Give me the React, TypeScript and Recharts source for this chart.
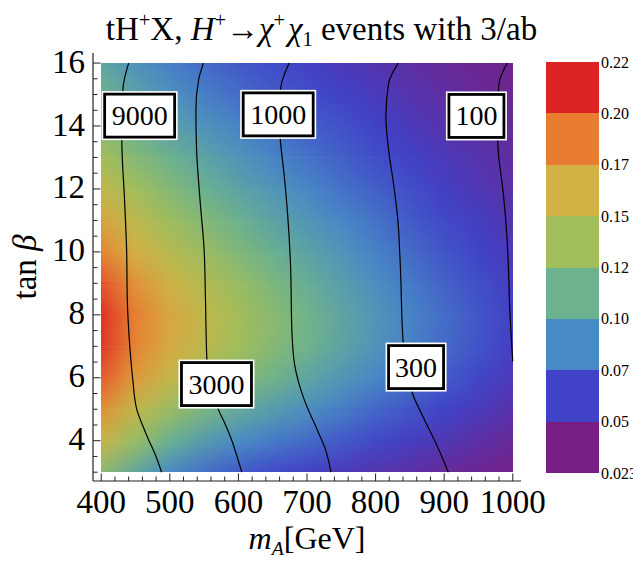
import React from 'react';
import { ComposedChart, XAxis, YAxis, ReferenceArea, Line, Scatter } from 'recharts';

const FONT = '"Liberation Serif", "Times New Roman", serif';

// ---- heat map grid (value shown by colour) ----
const mAColumns = [400, 450, 500, 550, 600, 650, 700, 750, 800, 850, 900, 950, 1000];
const tanBetaRows = [3, 4, 5, 6, 7, 8, 9, 10, 11, 12, 13, 14, 15, 16];
const row3 = [0.126, 0.100, 0.080, 0.069, 0.061, 0.055, 0.050, 0.045, 0.041, 0.037, 0.033, 0.029, 0.025];
const row4 = [0.157, 0.130, 0.107, 0.091, 0.081, 0.074, 0.067, 0.060, 0.054, 0.048, 0.043, 0.037, 0.032];
const row5 = [0.182, 0.155, 0.132, 0.115, 0.102, 0.092, 0.083, 0.075, 0.066, 0.059, 0.052, 0.046, 0.039];
const row6 = [0.202, 0.176, 0.156, 0.137, 0.122, 0.110, 0.098, 0.088, 0.078, 0.069, 0.061, 0.053, 0.045];
const row7 = [0.213, 0.188, 0.168, 0.151, 0.136, 0.122, 0.109, 0.097, 0.086, 0.076, 0.067, 0.058, 0.049];
const row8 = [0.215, 0.190, 0.170, 0.153, 0.137, 0.123, 0.110, 0.098, 0.087, 0.077, 0.068, 0.059, 0.050];
const row9 = [0.204, 0.180, 0.161, 0.145, 0.130, 0.116, 0.104, 0.093, 0.082, 0.073, 0.064, 0.056, 0.048];
const row10 = [0.187, 0.165, 0.147, 0.132, 0.119, 0.106, 0.096, 0.086, 0.076, 0.067, 0.059, 0.052, 0.045];
const row11 = [0.170, 0.150, 0.133, 0.120, 0.107, 0.096, 0.087, 0.078, 0.070, 0.061, 0.054, 0.048, 0.041];
const row12 = [0.153, 0.135, 0.120, 0.107, 0.096, 0.087, 0.078, 0.070, 0.063, 0.056, 0.049, 0.043, 0.038];
const row13 = [0.137, 0.120, 0.107, 0.096, 0.086, 0.077, 0.070, 0.063, 0.056, 0.050, 0.045, 0.040, 0.035];
const row14 = [0.122, 0.107, 0.095, 0.085, 0.077, 0.069, 0.063, 0.057, 0.051, 0.045, 0.040, 0.036, 0.032];
const row15 = [0.109, 0.095, 0.084, 0.075, 0.068, 0.061, 0.056, 0.051, 0.046, 0.041, 0.036, 0.032, 0.030];
const row16 = [0.097, 0.085, 0.075, 0.067, 0.060, 0.055, 0.050, 0.045, 0.041, 0.036, 0.032, 0.029, 0.027];
const gridRows = [row3, row4, row5, row6, row7, row8, row9, row10, row11, row12, row13, row14, row15, row16];

// ---- event-count contours ----
const contour9000 = [
  { mA: 440, tb: 16 }, { mA: 432, tb: 15.26 }, { mA: 430, tb: 14.4 }, { mA: 430, tb: 13.56 },
  { mA: 434, tb: 11.65 }, { mA: 437, tb: 10.07 }, { mA: 438, tb: 8.48 }, { mA: 440, tb: 7.53 },
  { mA: 442, tb: 6.89 }, { mA: 446, tb: 5.94 }, { mA: 452, tb: 4.98 }, { mA: 461, tb: 4.45 },
  { mA: 469, tb: 4.03 }, { mA: 478, tb: 3.6 }, { mA: 488, tb: 3 },
];
const contour3000 = [
  { mA: 549, tb: 16 }, { mA: 542, tb: 15.47 }, { mA: 538, tb: 14.52 }, { mA: 539, tb: 13.25 },
  { mA: 544, tb: 11.66 }, { mA: 550, tb: 10.07 }, { mA: 552, tb: 8.48 }, { mA: 554, tb: 6.6 },
  { mA: 561, tb: 5.8 }, { mA: 571, tb: 4.98 }, { mA: 580, tb: 4.56 }, { mA: 590, tb: 4.03 },
  { mA: 598, tb: 3.5 }, { mA: 605, tb: 3 },
];
const contour1000 = [
  { mA: 674, tb: 16 }, { mA: 662, tb: 15.26 }, { mA: 659, tb: 14.4 }, { mA: 661, tb: 13.59 },
  { mA: 667, tb: 12.38 }, { mA: 672, tb: 11.12 }, { mA: 676, tb: 9.59 }, { mA: 678, tb: 7.47 },
  { mA: 682, tb: 6.41 }, { mA: 695, tb: 5.36 }, { mA: 716, tb: 4.29 }, { mA: 726, tb: 3.78 },
  { mA: 735, tb: 3 },
];
const contour300 = [
  { mA: 833, tb: 16 }, { mA: 819, tb: 15.36 }, { mA: 815, tb: 14.3 }, { mA: 819, tb: 13.24 },
  { mA: 826, tb: 12.19 }, { mA: 832, tb: 11.12 }, { mA: 836, tb: 9.59 }, { mA: 840, tb: 7.2 },
  { mA: 845, tb: 6.3 }, { mA: 853, tb: 5.55 }, { mA: 870, tb: 4.72 }, { mA: 889, tb: 3.87 },
  { mA: 906, tb: 3 },
];
const contour100 = [
  { mA: 992, tb: 16 }, { mA: 980, tb: 15.36 }, { mA: 977, tb: 14.3 }, { mA: 979, tb: 13.16 },
  { mA: 986, tb: 11.9 }, { mA: 992, tb: 10.3 }, { mA: 993.5, tb: 9.59 }, { mA: 996, tb: 8.0 },
  { mA: 1000, tb: 6.52 },
];
const contours = [contour9000, contour3000, contour1000, contour300, contour100];
const contourLabels = [
  { mA: 456, tb: 14.33, text: '9000' },
  { mA: 658, tb: 14.37, text: '1000' },
  { mA: 947, tb: 14.32, text: '100' },
  { mA: 568, tb: 5.8, text: '3000' },
  { mA: 859, tb: 6.34, text: '300' },
];

// ---- axes ----
const xTicks = [400, 420, 440, 460, 480, 500, 520, 540, 560, 580, 600, 620, 640, 660, 680, 700, 720, 740, 760, 780,
  800, 820, 840, 860, 880, 900, 920, 940, 960, 980, 1000];
const xMajorTicks = [400, 500, 600, 700, 800, 900, 1000];
const yTicks = [3, 3.5, 4, 4.5, 5, 5.5, 6, 6.5, 7, 7.5, 8, 8.5, 9, 9.5, 10, 10.5, 11, 11.5, 12, 12.5, 13, 13.5, 14,
  14.5, 15, 15.5, 16];
const yMajorTicks = [4, 6, 8, 10, 12, 14, 16];

// ---- colour bar ----
const colorbarLabels = ['0.023', '0.05', '0.07', '0.10', '0.12', '0.15', '0.17', '0.20', '0.22'];
const colorbarPositions = [0, 1, 2, 3, 4, 5, 6, 7, 8];
const rainbowColors = ['#781E82', '#4042C8', '#488AC6', '#6CB28E', '#A2BE5A', '#D2B244', '#E87D32', '#DC2323'];
const valueRange = [0.023, 0.22];

function hexToRgb(h: string) {
  return [parseInt(h.slice(1, 3), 16), parseInt(h.slice(3, 5), 16), parseInt(h.slice(5, 7), 16)];
}
function colorOf(v: number) {
  let t = (v - valueRange[0]) / (valueRange[1] - valueRange[0]);
  t = Math.max(0, Math.min(1, t));
  const p = t * (rainbowColors.length - 1);
  const i = Math.min(rainbowColors.length - 2, Math.floor(p));
  const f = p - i;
  const a = hexToRgb(rainbowColors[i]);
  const b = hexToRgb(rainbowColors[i + 1]);
  const c = a.map((x, k) => Math.round(x + (b[k] - x) * f));
  return `rgb(${c[0]},${c[1]},${c[2]})`;
}

const mAMin = mAColumns[0];
const mAMax = mAColumns[mAColumns.length - 1];

const MAJ = 7.5;
const MIN = 4.5;

const BottomTick = (p: any) => {
  const { x, y, payload } = p;
  const v = payload.value;
  const major = xMajorTicks.includes(v);
  return (
    <g>
      <line x1={x} y1={y} x2={x} y2={y - (major ? MAJ : MIN)} stroke="#222" strokeWidth={1} />
      {major && (
        <text x={x} y={y + 32} textAnchor="middle" fontFamily={FONT} fontSize={33} fill="#000">{v}</text>
      )}
    </g>
  );
};
const TopTick = (p: any) => {
  const { x, y, payload } = p;
  const major = xMajorTicks.includes(payload.value);
  return <line x1={x} y1={y} x2={x} y2={y + (major ? MAJ : MIN)} stroke="#222" strokeWidth={1} />;
};
const LeftTick = (p: any) => {
  const { x, y, payload } = p;
  const v = payload.value;
  const major = yMajorTicks.includes(v);
  return (
    <g>
      <line x1={x} y1={y} x2={x + (major ? MAJ : MIN)} y2={y} stroke="#222" strokeWidth={1} />
      {major && (
        <text x={x - 8} y={y + 9.5} textAnchor="end" fontFamily={FONT} fontSize={33} fill="#000">{v}</text>
      )}
    </g>
  );
};
const RightTick = (p: any) => {
  const { x, y, payload } = p;
  const major = yMajorTicks.includes(payload.value);
  return <line x1={x} y1={y} x2={x - (major ? MAJ : MIN)} y2={y} stroke="#222" strokeWidth={1} />;
};
const ColorbarTick = (p: any) => {
  const { x, y, payload } = p;
  return (
    <text x={x} y={y + 5.5} textAnchor="start" fontFamily={FONT} fontSize={16} fill="#000">
      {colorbarLabels[payload.value]}
    </text>
  );
};

const LabelBox = (p: any) => {
  const { cx, cy, payload } = p;
  const text = payload.text;
  const w = text.length >= 4 ? 76 : 61;
  const h = 49;
  return (
    <g>
      <rect x={cx - w / 2} y={cy - h / 2} width={w} height={h} fill="#fff" />
      <rect x={cx - w / 2 + 3} y={cy - h / 2 + 3} width={w - 6} height={h - 6} fill="#fff" stroke="#000" strokeWidth={2.8} />
      <text x={cx} y={cy + 9.5} textAnchor="middle" fontFamily={FONT} fontSize={28} fill="#000">{text}</text>
    </g>
  );
};

const sup: React.CSSProperties = { fontSize: '0.62em', position: 'relative', top: '-0.62em' };
const sub: React.CSSProperties = { fontSize: '0.62em', position: 'relative', top: '0.3em' };

export default function App() {
  return (
    <div style={{ position: 'relative', width: 633, height: 547, fontFamily: FONT }}>
      <svg width={0} height={0} style={{ position: 'absolute' }}>
        <defs>
          {gridRows.map((row, i) => (
            <linearGradient key={i} id={`hg${i}`} x1="0" y1="0" x2="1" y2="0">
              {row.map((v, j) => (
                <stop key={j} offset={(mAColumns[j] - mAMin) / (mAMax - mAMin)} stopColor={colorOf(v)} />
              ))}
            </linearGradient>
          ))}
          <linearGradient id="vfade" x1="0" y1="1" x2="0" y2="0">
            <stop offset="0" stopColor="#fff" stopOpacity={0} />
            <stop offset="1" stopColor="#fff" stopOpacity={1} />
          </linearGradient>
          <mask id="fadeUp" maskContentUnits="objectBoundingBox" style={{ maskType: 'alpha' } as any}>
            <rect x="0" y="0" width="1" height="1" fill="url(#vfade)" />
          </mask>
        </defs>
      </svg>

      <div style={{ position: 'absolute', left: 0, top: 0 }}>
        <ComposedChart width={565} height={547} margin={{ top: 45, right: 52, bottom: 34, left: 25 }}>
          <XAxis type="number" dataKey="mA" domain={[388, 1012]} allowDataOverflow ticks={xTicks} interval={0}
            tickSize={0} tickMargin={0} tickLine={false} height={40}
            axisLine={{ stroke: '#222', strokeWidth: 1.2 }} tick={(p: any) => <BottomTick {...p} />} />
          <XAxis xAxisId="top" orientation="top" type="number" dataKey="mA" domain={[388, 1012]} allowDataOverflow
            ticks={xTicks} interval={0} tickSize={0} tickMargin={0} tickLine={false} height={0}
            axisLine={{ stroke: '#222', strokeWidth: 1.2 }} tick={(p: any) => <TopTick {...p} />} />
          <YAxis type="number" dataKey="tb" domain={[2.72, 16.32]} allowDataOverflow ticks={yTicks} interval={0}
            tickSize={0} tickMargin={0} tickLine={false} width={60}
            axisLine={{ stroke: '#222', strokeWidth: 1.2 }} tick={(p: any) => <LeftTick {...p} />} />
          <YAxis yAxisId="right" orientation="right" type="number" dataKey="tb" domain={[2.72, 16.32]} allowDataOverflow
            ticks={yTicks} interval={0} tickSize={0} tickMargin={0} tickLine={false} width={0}
            axisLine={{ stroke: '#222', strokeWidth: 1.2 }} tick={(p: any) => <RightTick {...p} />} />

          {tanBetaRows.slice(0, -1).map((tb, i) => (
            <ReferenceArea key={`cell${i}`} x1={mAMin} x2={mAMax} y1={tb} y2={tanBetaRows[i + 1]}
              ifOverflow="visible"
              shape={(p: any) => (
                <g>
                  <rect x={p.x} y={p.y} width={p.width} height={p.height} fill={`url(#hg${i})`} shapeRendering="crispEdges" />
                  <rect x={p.x} y={p.y} width={p.width} height={p.height} fill={`url(#hg${i + 1})`} mask="url(#fadeUp)" shapeRendering="crispEdges" />
                </g>
              )} />
          ))}

          {contours.map((c, i) => (
            <Line key={`c${i}`} data={c} dataKey="tb" type="monotoneY" stroke="#000" strokeWidth={1.2}
              dot={false} activeDot={false} isAnimationActive={false} />
          ))}

          <Scatter data={contourLabels} dataKey="tb" isAnimationActive={false} shape={(p: any) => <LabelBox {...p} />} />
        </ComposedChart>
      </div>

      <div style={{ position: 'absolute', left: 533, top: 44 }}>
        <ComposedChart width={100} height={431} margin={{ top: 10, right: 0, bottom: 10, left: 5 }}
          data={colorbarPositions.map((pos) => ({ pos, x: 0.5 }))}>
          <XAxis type="number" dataKey="x" domain={[0, 1]} hide />
          <YAxis orientation="right" type="number" dataKey="pos" domain={[0, 8]} ticks={colorbarPositions} interval={0}
            width={42} axisLine={false} tickLine={false}
            tickSize={0} tickMargin={2} tick={(p: any) => <ColorbarTick {...p} />} />
          {rainbowColors.map((c, i) => (
            <ReferenceArea key={i} x1={0} x2={1} y1={i} y2={i + 1} fill={c} fillOpacity={1} stroke="none"
              ifOverflow="visible" shape={(p: any) => (
                <rect x={p.x} y={p.y} width={p.width} height={p.height} fill={c} shapeRendering="crispEdges" />
              )} />
          ))}
        </ComposedChart>
      </div>

      <div style={{ position: 'absolute', left: 0, top: 5, width: 627, textAlign: 'center', fontSize: 33, lineHeight: 1, whiteSpace: 'nowrap' }}>
        tH<span style={sup}>+</span>X, <i>H</i><span style={sup}>+</span>→<i>χ</i><span style={sup}>+</span>&#8202;<i>χ</i><span style={sub}>1</span> events with 3/ab
      </div>

      <div style={{ position: 'absolute', left: 17, top: 259, transform: 'translate(-50%,-50%) rotate(-90deg)', fontSize: 33, lineHeight: 1, whiteSpace: 'nowrap' }}>
        tan <i>β</i>
      </div>

      <div style={{ position: 'absolute', left: 0, top: 514, width: 598, textAlign: 'center', fontSize: 32, lineHeight: 1, whiteSpace: 'nowrap' }}>
        <i>m</i><span style={{ ...sub, fontStyle: 'italic' }}>A</span>[GeV]
      </div>
    </div>
  );
}
